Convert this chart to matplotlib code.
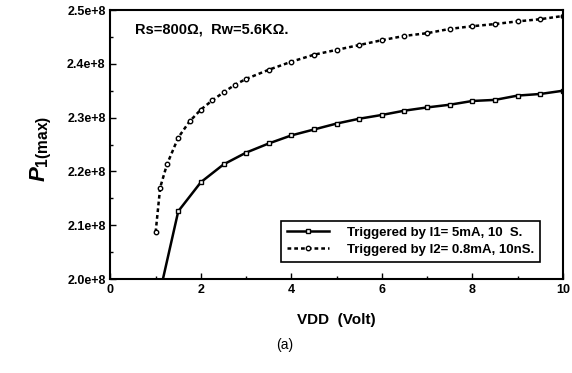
import matplotlib.pyplot as plt
from matplotlib.ticker import MultipleLocator, FuncFormatter

plt.rcParams['font.family'] = ['Liberation Sans', 'DejaVu Sans']
plt.rcParams['mathtext.fontset'] = 'custom'
plt.rcParams['mathtext.it'] = 'Liberation Sans:italic:bold'
plt.rcParams['mathtext.bf'] = 'Liberation Sans:bold'

# VDD values (Volt) and P1(max) values
vdd_i1 = [1.0, 1.5, 2.0, 2.5, 3.0, 3.5, 4.0, 4.5, 5.0, 5.5,
          6.0, 6.5, 7.0, 7.5, 8.0, 8.5, 9.0, 9.5, 10.0]
p_i1 = [1.94e8, 2.126e8, 2.180e8, 2.213e8, 2.235e8, 2.252e8, 2.267e8, 2.278e8,
        2.289e8, 2.298e8, 2.305e8, 2.313e8, 2.319e8, 2.324e8, 2.331e8,
        2.333e8, 2.341e8, 2.344e8, 2.350e8]

vdd_i2 = [1.0, 1.1, 1.25, 1.5, 1.75, 2.0, 2.25, 2.5, 2.75, 3.0, 3.5, 4.0,
          4.5, 5.0, 5.5, 6.0, 6.5, 7.0, 7.5, 8.0, 8.5, 9.0, 9.5, 10.0]
p_i2 = [2.087e8, 2.170e8, 2.213e8, 2.263e8, 2.293e8, 2.315e8, 2.332e8,
        2.347e8, 2.361e8, 2.372e8, 2.389e8, 2.404e8, 2.417e8, 2.426e8,
        2.435e8, 2.444e8, 2.452e8, 2.457e8, 2.465e8, 2.470e8, 2.474e8,
        2.479e8, 2.483e8, 2.489e8]

labels = ['Triggered by I1= 5mA, 10  S.', 'Triggered by I2= 0.8mA, 10nS.']

fig = plt.figure(figsize=(5.72, 3.73), dpi=100)
ax = fig.add_axes([0.193, 0.252, 0.791, 0.721])

ax.plot(vdd_i1, p_i1, color='black', lw=1.8, marker='s', ms=3.2,
        mfc='white', mec='black', mew=1, label=labels[0])
ax.plot(vdd_i2, p_i2, color='black', lw=1.8, ls=(0, (1.5, 1.2)), marker='o', ms=3.2,
        mfc='white', mec='black', mew=1, label=labels[1])

ax.set_xlim(0, 10)
ax.set_ylim(2.0e8, 2.5e8)
ax.xaxis.set_major_locator(MultipleLocator(2))
ax.xaxis.set_minor_locator(MultipleLocator(1))
ax.yaxis.set_major_locator(MultipleLocator(0.1e8))
ax.yaxis.set_minor_locator(MultipleLocator(0.05e8))
ax.yaxis.set_major_formatter(FuncFormatter(lambda v, p: '%.1fe+8' % (v / 1e8)))
ax.tick_params(which='both', direction='in', labelsize=9)
ax.tick_params(which='major', length=4, width=1)
ax.tick_params(which='minor', length=2, width=1)
for t in ax.get_xticklabels() + ax.get_yticklabels():
    t.set_fontweight('bold')
for s in ax.spines.values():
    s.set_linewidth(1.5)

ax.text(0.055, 0.955, 'Rs=800Ω,  Rw=5.6KΩ.', transform=ax.transAxes,
        fontsize=10.5, fontweight='bold', va='top')

leg = ax.legend(loc='lower right', bbox_to_anchor=(0.965, 0.04),
                prop={'weight': 'bold', 'size': 9.5}, fancybox=False,
                edgecolor='black', framealpha=1, handlelength=3.2,
                borderpad=0.45, labelspacing=0.35, handletextpad=1.4)
leg.get_frame().set_linewidth(1.2)

ax.set_xlabel('VDD  (Volt)', fontsize=11, fontweight='bold', labelpad=12)
fig.text(0.072, 0.6, r'$\mathit{P}_{\mathbf{1(max)}}$', rotation=90,
         fontsize=16, ha='center', va='center')
fig.text(0.498, 0.075, '(a)', fontsize=10, ha='center', va='center')

fig.savefig('out.png', dpi=100)
